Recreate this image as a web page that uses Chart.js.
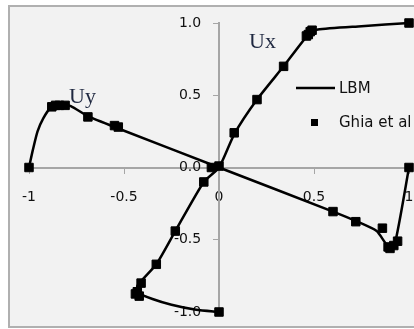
<!DOCTYPE html>
<html>
<head>
<meta charset="utf-8">
<script src="https://cdn.jsdelivr.net/npm/chart.js@4/dist/chart.umd.min.js"></script>
<style>
  html, body { margin: 0; padding: 0; background: #fff; }
  #wrap { width: 414px; height: 329px; position: relative; }
</style>
</head>
<body>
<div id="wrap"><canvas id="cavity"></canvas></div>
<script>
// Ghia et al. reference points
const ghiaUxX = [1, 0.49, 0.48, 0.47, 0.46, 0.34, 0.20, 0.08, -0.04, -0.08, -0.23, -0.33, -0.41, -0.43, -0.44, -0.42, 0];
const ghiaUxY = [1, 0.95, 0.94, 0.92, 0.91, 0.70, 0.47, 0.24, 0.00, -0.10, -0.44, -0.67, -0.80, -0.86, -0.875, -0.89, -1];

const ghiaUyX = [1, 0.94, 0.92, 0.90, 0.89, 0.86, 0.72, 0.60, 0.00, -0.53, -0.55, -0.69, -0.81, -0.84, -0.86, -0.88, -1];
const ghiaUyY = [0, -0.51, -0.54, -0.56, -0.55, -0.42, -0.375, -0.305, 0.01, 0.28, 0.29, 0.35, 0.43, 0.43, 0.43, 0.42, 0];

// LBM curves
const lbmUxX = [0, -0.12, -0.25, -0.35, -0.42, -0.43, -0.33, -0.23, -0.08, 0, 0.08, 0.20, 0.34, 0.47, 0.52, 0.75, 1];
const lbmUxY = [-1, -0.985, -0.95, -0.91, -0.87, -0.82, -0.67, -0.44, -0.10, 0, 0.23, 0.47, 0.70, 0.92, 0.955, 0.978, 1];

const lbmUyX = [-1, -0.98, -0.955, -0.925, -0.885, -0.84, -0.78, -0.69, -0.54, 0, 0.60, 0.72, 0.83, 0.89, 0.925, 1];
const lbmUyY = [0, 0.12, 0.25, 0.34, 0.415, 0.44, 0.425, 0.355, 0.275, 0, -0.305, -0.37, -0.44, -0.545, -0.53, 0];

const xTickLabels = ['-1', '-0.5', '0', '0.5', '1'];
const yTickLabels = ['-1.0', '-0.5', '0.0', '0.5', '1.0'];

function toPoints(xs, ys) {
    let pts = [];
    for (let i = 0; i < xs.length; i++) {
        pts.push({x: xs[i], y: ys[i]});
    }
    return pts;
}

const tickFont = {family: 'DejaVu Sans', size: 14};

// the axes sit at the origin, so they must not push the plot area inwards
function noScalePadding(scale) {
    scale.paddingLeft = 0;
    scale.paddingRight = 0;
    scale.paddingTop = 0;
    scale.paddingBottom = 0;
}

// grey chart box, curve names and the legend
const decor = {
    id: 'decor',
    beforeDraw(chart) {
        const ctx = chart.ctx;
        ctx.save();
        ctx.fillStyle = '#fff';
        ctx.fillRect(0, 0, chart.width, chart.height);
        ctx.fillStyle = '#f2f2f2';
        ctx.fillRect(10, 7, chart.width, 319);
        ctx.strokeStyle = '#b0b0b0';
        ctx.lineWidth = 2;
        ctx.strokeRect(9, 6, chart.width + 10, 321);
        ctx.restore();
    },
    afterDraw(chart) {
        const ctx = chart.ctx;
        ctx.save();
        ctx.fillStyle = '#1f2840';
        ctx.font = '22px "Liberation Serif"';
        ctx.textBaseline = 'alphabetic';
        ctx.fillText('Ux', 249, 48);
        ctx.fillText('Uy', 69, 103);

        ctx.strokeStyle = '#000';
        ctx.lineWidth = 2.5;
        ctx.beginPath();
        ctx.moveTo(296, 88);
        ctx.lineTo(335, 88);
        ctx.stroke();
        ctx.fillStyle = '#000';
        ctx.fillRect(311, 119, 7, 7);

        ctx.fillStyle = '#111';
        ctx.font = '15px "DejaVu Sans"';
        ctx.fillText('LBM', 339, 93);
        ctx.fillText('Ghia et al', 339, 127);
        ctx.restore();
    }
};

const lineStyle = {
    showLine: true,
    borderColor: '#000',
    borderWidth: 2.5,
    tension: 0.2,
    pointRadius: 0,
    clip: false
};

const markerStyle = {
    showLine: false,
    pointStyle: 'rect',
    pointRadius: 6,
    borderWidth: 1,
    backgroundColor: '#000',
    borderColor: '#000',
    clip: false
};

new Chart(document.getElementById('cavity'), {
    type: 'scatter',
    data: {
        datasets: [
            Object.assign({label: 'LBM Ux', data: toPoints(lbmUxX, lbmUxY)}, lineStyle),
            Object.assign({label: 'LBM Uy', data: toPoints(lbmUyX, lbmUyY)}, lineStyle),
            Object.assign({label: 'Ghia et al Ux', data: toPoints(ghiaUxX, ghiaUxY)}, markerStyle),
            Object.assign({label: 'Ghia et al Uy', data: toPoints(ghiaUyX, ghiaUyY)}, markerStyle)
        ]
    },
    options: {
        responsive: true,
        maintainAspectRatio: false,
        animation: false,
        layout: {autoPadding: false, padding: {left: 29, right: 5, top: 23, bottom: 17}},
        plugins: {
            legend: {display: false},
            tooltip: {enabled: false}
        },
        scales: {
            x: {
                type: 'linear',
                position: {y: 0},
                min: -1,
                max: 1,
                afterFit: noScalePadding,
                grid: {drawOnChartArea: false, drawTicks: true, tickLength: 5, tickColor: '#a6a6a6'},
                border: {display: true, color: '#a6a6a6', width: 2},
                ticks: {
                    stepSize: 0.5,
                    padding: 16,
                    color: '#111',
                    font: tickFont,
                    callback: (v, i) => xTickLabels[i]
                }
            },
            y: {
                type: 'linear',
                position: {x: 0},
                min: -1,
                max: 1,
                afterFit: noScalePadding,
                grid: {drawOnChartArea: false, drawTicks: true, tickLength: 5, tickColor: '#a6a6a6'},
                border: {display: true, color: '#a6a6a6', width: 2},
                ticks: {
                    stepSize: 0.5,
                    color: '#111',
                    font: tickFont,
                    // labels of a centred axis are drawn flush with it; the spaces keep a gap
                    callback: (v, i) => yTickLabels[i] + '    '
                }
            }
        }
    },
    plugins: [decor]
});
</script>
</body>
</html>
